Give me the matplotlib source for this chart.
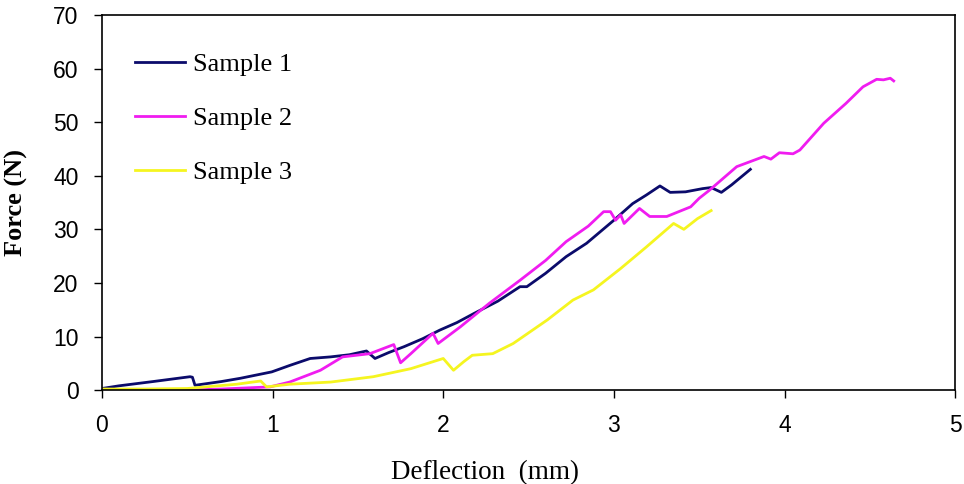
import matplotlib
matplotlib.use('Agg')
import matplotlib.pyplot as plt

# Sample 1 (navy)
s1_x = [0.0, 0.1, 0.3, 0.516, 0.53, 0.545, 0.7, 0.81, 0.995, 1.1, 1.22, 1.34, 1.45, 1.55,
        1.60, 1.68, 1.77, 1.88, 1.98, 2.08, 2.18, 2.32, 2.45, 2.49, 2.6, 2.72, 2.84,
        3.0, 3.11, 3.19, 3.27, 3.33, 3.42, 3.52, 3.57, 3.63, 3.69, 3.80]
s1_y = [0.3, 0.8, 1.6, 2.5, 2.4, 0.9, 1.6, 2.2, 3.4, 4.6, 5.9, 6.2, 6.6, 7.3,
        5.9, 7.0, 8.1, 9.6, 11.2, 12.6, 14.3, 16.6, 19.3, 19.3, 21.8, 24.9, 27.4,
        31.7, 34.8, 36.4, 38.1, 36.9, 37.0, 37.6, 37.8, 36.9, 38.3, 41.2]

# Sample 2 (magenta)
s2_x = [0.48, 0.7, 0.985, 1.10, 1.28, 1.41, 1.57, 1.71, 1.75, 1.81, 1.94, 1.97, 2.10,
        2.27, 2.45, 2.60, 2.72, 2.85, 2.94, 2.98, 3.01, 3.04, 3.06, 3.15, 3.21, 3.31,
        3.45, 3.50, 3.56, 3.72, 3.88, 3.92, 3.97, 4.05, 4.09, 4.23, 4.36, 4.46, 4.54,
        4.58, 4.62, 4.64]
s2_y = [0.0, 0.2, 0.6, 1.5, 3.7, 6.2, 6.8, 8.5, 5.1, 6.8, 10.6, 8.7, 11.8,
        16.2, 20.5, 24.2, 27.7, 30.6, 33.3, 33.3, 31.7, 32.7, 31.1, 33.9, 32.4, 32.4,
        34.2, 35.8, 37.3, 41.7, 43.6, 43.1, 44.3, 44.1, 44.8, 49.8, 53.5, 56.6, 58.0,
        57.9, 58.2, 57.7]

# Sample 3 (yellow)
s3_x = [0.0, 0.25, 0.50, 0.79, 0.93, 0.965, 1.10, 1.34, 1.59, 1.81, 1.88, 2.0, 2.06,
        2.12, 2.17, 2.29, 2.41, 2.61, 2.76, 2.88, 3.04, 3.19, 3.35, 3.41, 3.49, 3.57]
s3_y = [0.2, 0.2, 0.3, 1.1, 1.7, 0.6, 1.1, 1.5, 2.5, 4.0, 4.7, 5.9, 3.7,
        5.3, 6.5, 6.8, 8.7, 13.1, 16.8, 18.7, 22.7, 26.7, 31.1, 30.0, 32.0, 33.5]

fig = plt.figure(figsize=(9.64, 4.84), dpi=100)
ax = fig.add_axes([0.1058, 0.194, 0.885, 0.775])

ax.plot(s1_x, s1_y, color='#0b0b6b', lw=2, label='Sample 1')
ax.plot(s2_x, s2_y, color='#f01cf0', lw=2, label='Sample 2')
ax.plot(s3_x, s3_y, color='#f5f520', lw=2, label='Sample 3')

ax.set_xlim(0, 5)
ax.set_ylim(0, 70)
ax.set_xticks(range(0, 6))
ax.set_yticks(range(0, 71, 10))
ax.tick_params(direction='out', length=6, width=1, labelsize=16.5, pad=11)
for lab in ax.get_xticklabels() + ax.get_yticklabels():
    lab.set_family('Liberation Sans')
for sp in ax.spines.values():
    sp.set_linewidth(1.2)

ax.set_xlabel('Deflection  (mm)', family='Liberation Serif', fontsize=19.5)
ax.set_ylabel('Force (N)', family='Liberation Serif', fontsize=19, fontweight='bold')
ax.xaxis.set_label_coords(0.449, -0.187)
ax.yaxis.set_label_coords(-0.087, 0.5)

leg = ax.legend(loc='upper left', bbox_to_anchor=(0.026, 0.927), borderaxespad=0,
                frameon=False, prop={'family': 'Liberation Serif', 'size': 19},
                labelspacing=1.15, handlelength=1.9, handletextpad=0.3)

fig.savefig('out.png', dpi=100)
